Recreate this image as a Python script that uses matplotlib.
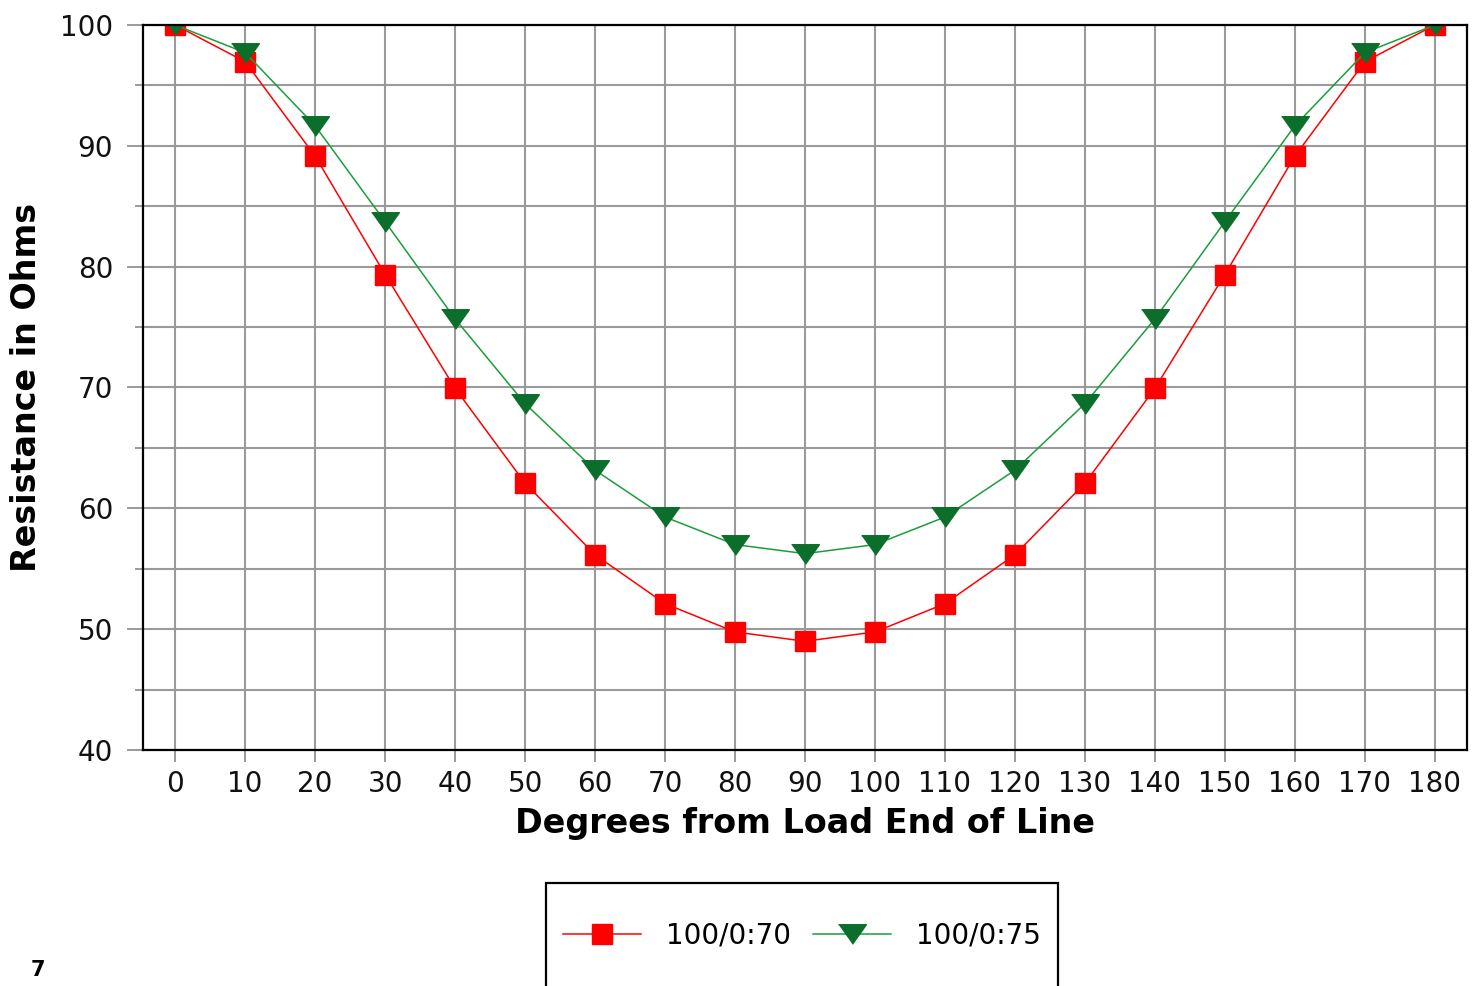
import matplotlib.pyplot as plt
from matplotlib.patches import Rectangle
from matplotlib.ticker import MultipleLocator

# degrees along the line from the load end
grados = [0, 10, 20, 30, 40, 50, 60, 70, 80, 90,
          100, 110, 120, 130, 140, 150, 160, 170, 180]

# resistance (ohms)
r_70 = [100.0, 96.96, 89.15, 79.35, 69.93, 62.08, 56.16, 52.11, 49.77, 49.0,
        49.77, 52.11, 56.16, 62.08, 69.93, 79.35, 89.15, 96.96, 100.0]
r_75 = [100.0, 97.71, 91.66, 83.72, 75.68, 68.66, 63.16, 59.28, 57.0, 56.25,
        57.0, 59.28, 63.16, 68.66, 75.68, 83.72, 91.66, 97.71, 100.0]

etiquetas = ['100/0:70', '100/0:75']

plt.rcParams['font.family'] = ['DejaVu Sans']

W, H = 1476, 986
fig = plt.figure(figsize=(W/100, H/100), dpi=100)
ax = fig.add_axes([143/W, 1 - 750/H, (1467 - 143)/W, (750 - 25)/H])

triangulo = [(-1.35, 0.95), (1.35, 0.95), (0, -0.95)]

ax.plot(grados, r_70, color='#ff0000', lw=1.1, marker='s', markersize=15,
        markerfacecolor='#ff0000', markeredgecolor='#ff0000', label=etiquetas[0])
ax.plot(grados, r_75, color='#1a9e3c', lw=1.1, marker=triangulo, markersize=20,
        markerfacecolor='#0b6e2a', markeredgecolor='#0b6e2a', label=etiquetas[1])

ax.set_xlim(-4.6, 184.6)
ax.set_ylim(40, 100)
ax.xaxis.set_major_locator(MultipleLocator(10))
ax.yaxis.set_major_locator(MultipleLocator(10))
ax.yaxis.set_minor_locator(MultipleLocator(5))

ax.grid(True, which='both', color='#9a9a9a', lw=1.5)
ax.set_axisbelow(True)

for s in ax.spines.values():
    s.set_color('black')
    s.set_linewidth(1.6)

ax.tick_params(axis='x', which='major', direction='out', length=8.6, width=1.4,
               color='#9a9a9a', labelsize=20, pad=6, labelcolor='#111111')
ax.tick_params(axis='y', which='major', direction='out', length=11.5, width=1.4,
               color='#9a9a9a', labelsize=20, pad=10, labelcolor='#111111')
ax.tick_params(axis='y', which='minor', direction='out', length=6, width=1.4,
               color='#9a9a9a')

ax.set_xlabel('Degrees from Load End of Line', fontsize=24, fontweight='bold', labelpad=6)
ax.set_ylabel('Resistance in Ohms', fontsize=24, fontweight='bold', labelpad=12)

# legend box runs off the bottom of the picture
caja = Rectangle((546/W, -0.05), (1058 - 546)/W, 0.05 + 1 - 883/H,
                 transform=fig.transFigure, fill=False, edgecolor='black',
                 lw=1.6, clip_on=False)
fig.patches.append(caja)

ley = fig.legend(loc='center', bbox_to_anchor=(802/W, 1 - 936/H), ncol=2,
                 fontsize=20, frameon=False, borderpad=0.3,
                 handlelength=2.8, handletextpad=0.9, columnspacing=0.8)

fig.text(38/W, 1 - 970/H, '7', fontsize=15, fontweight='bold',
         ha='center', va='center')

fig.savefig('out.png', dpi=100)
